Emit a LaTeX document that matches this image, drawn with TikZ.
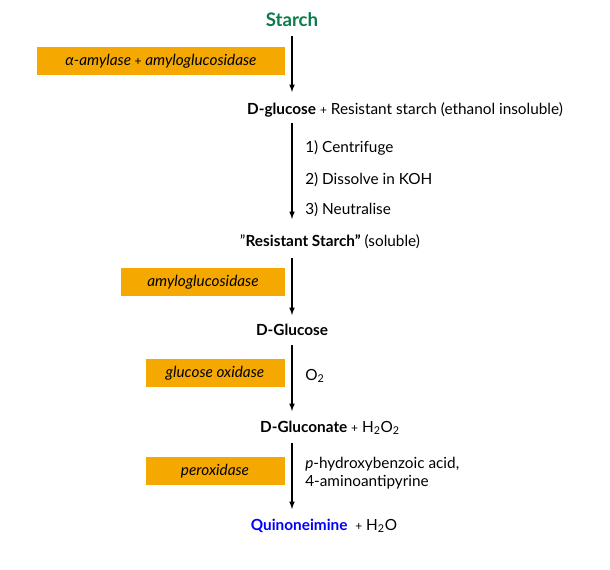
\documentclass[tikz,border=0pt]{standalone}
\usepackage{fontspec}
\setmainfont{Lato}
\newfontfamily\dv{DejaVu Sans}
\begin{document}
\begin{tikzpicture}[x=0.75pt,y=-0.75pt,
  enz/.style={fill=orange!70!yellow!90!red, fill=enzc, inner sep=0pt, font=\itshape\fontsize{11.5}{13}\selectfont},
  lbl/.style={inner sep=0pt, font=\fontsize{11.5}{13}\selectfont},
  arr/.style={-latex, line width=0.9pt}]
\definecolor{enzc}{HTML}{F5A800}
\definecolor{grn}{HTML}{0A7D4B}
\useasboundingbox (0,0) rectangle (610,570);
\node[lbl,font=\bfseries\fontsize{14}{16}\selectfont,text=grn] (s) at (292,20) {Starch};
\node[lbl] (g1) at (405,110) {\textbf{D-glucose} {\small+} Resistant starch (ethanol insoluble)};
\node[lbl] (rs) at (330,242) {"\textbf{Resistant Starch"} (soluble)};
\node[lbl,font=\bfseries\fontsize{11.5}{13}\selectfont] (g2) at (292,330) {D-Glucose};
\node[lbl] (gl) at (330,428) {\textbf{D-Gluconate} {\small+} H\textsubscript{2}O\textsubscript{2}};
\node[lbl] (q) at (324,526) {\textcolor{blue}{\textbf{Quinoneimine}} \ {\small+} H\textsubscript{2}O};
\coordinate (a1) at (292,35); \coordinate (a2) at (292,92);
\draw[arr] (292,36) -- (292,92);
\draw[arr] (292,123) -- (292,219);
\draw[arr] (292,258) -- (292,315);
\draw[arr] (292,345) -- (292,411);
\draw[arr] (292,443) -- (292,509);
\node[enz,minimum width=248\pgflinewidth,text width=,anchor=center] (e1) at (161,61) {};
\fill[enzc] (37,47) rectangle (285,75);
\node[lbl,font=\itshape\fontsize{11.5}{13}\selectfont] at (161,61) {α-amylase {\upshape\small+} amyloglucosidase};
\fill[enzc] (121,268) rectangle (285,296);
\node[lbl,font=\itshape\fontsize{11.5}{13}\selectfont] at (203,282) {amyloglucosidase};
\fill[enzc] (146,359) rectangle (285,387);
\node[lbl,font=\itshape\fontsize{11.5}{13}\selectfont] at (215,373) {glucose oxidase};
\fill[enzc] (146,457) rectangle (285,485);
\node[lbl,font=\itshape\fontsize{11.5}{13}\selectfont] at (215,471) {peroxidase};
\node[lbl,anchor=west] at (305,148) {1) Centrifuge};
\node[lbl,anchor=west] at (305,180) {2) Dissolve in KOH};
\node[lbl,anchor=west] at (305,210) {3) Neutralise};
\node[lbl,anchor=west] at (305,376) {O\textsubscript{2}};
\node[lbl,anchor=west] at (305,464) {\textit{p}-hydroxybenzoic acid,};
\node[lbl,anchor=west] at (305,482) {4-aminoantipyrine};
\end{tikzpicture}
\end{document}
